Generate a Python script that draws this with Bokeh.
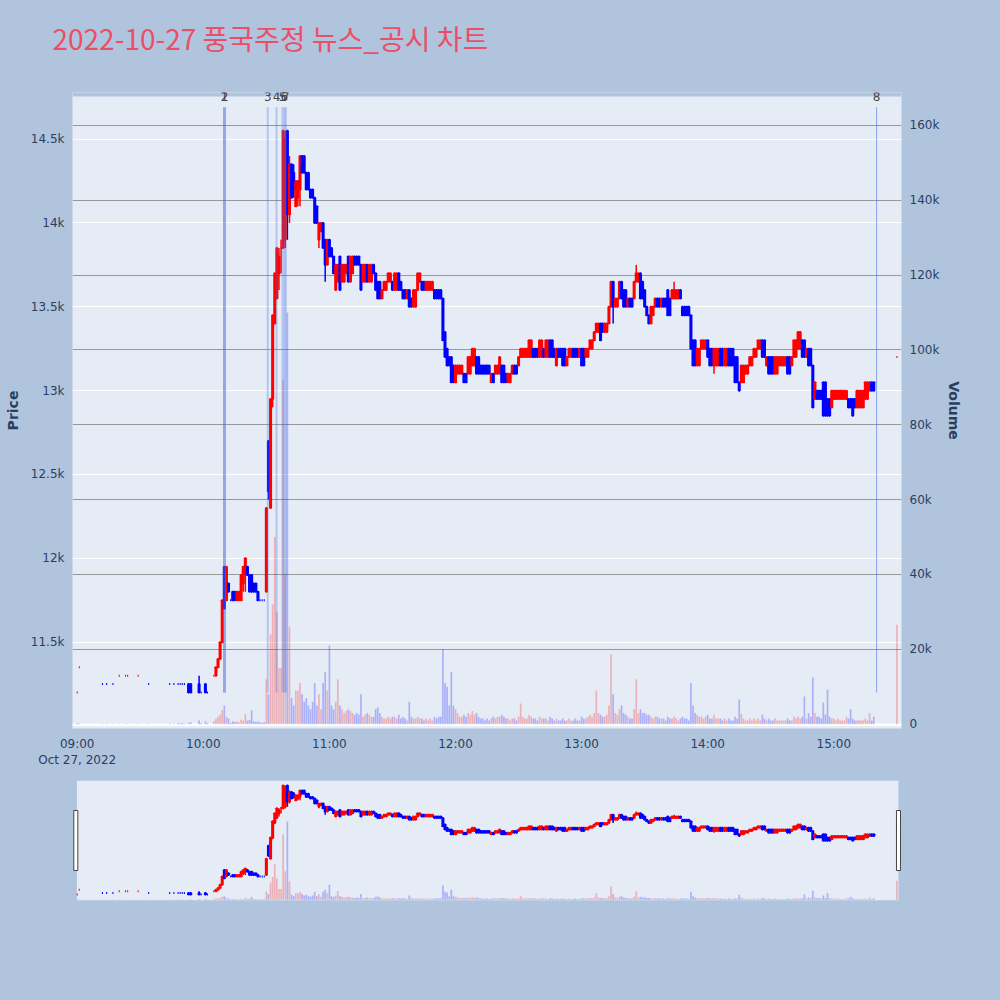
import pandas as pd
from bokeh.plotting import figure
from bokeh.models import (ColumnDataSource, Range1d, LinearAxis, FixedTicker, Grid,
                          DatetimeTickFormatter, BoxAnnotation)
from bokeh.core.properties import value
from bokeh.layouts import column
from bokeh.embed import file_html
from bokeh.resources import INLINE

DAY = "2022-10-27"
TITLE = "2022-10-27 풍국주정 뉴스_공시 차트"

times = [
    "09:00", "09:01", "09:12", "09:14", "09:17", "09:20", "09:23", "09:24", "09:29", "09:34",
    "09:44", "09:46", "09:48", "09:49", "09:50", "09:51", "09:53", "09:54", "09:58", "09:59",
    "10:01", "10:02",
    "10:05", "10:06", "10:07", "10:08", "10:09",
    "10:10", "10:11", "10:12", "10:13", "10:14", "10:15", "10:16", "10:17", "10:18", "10:19",
    "10:20", "10:21", "10:22", "10:23", "10:24", "10:25", "10:26", "10:27", "10:28", "10:29",
    "10:30", "10:31", "10:32", "10:33", "10:34", "10:35", "10:36", "10:37", "10:38", "10:39",
    "10:40", "10:41", "10:42", "10:43", "10:44", "10:45", "10:46", "10:47", "10:48", "10:49",
    "10:50", "10:51", "10:52", "10:53", "10:54", "10:55", "10:56", "10:57", "10:58", "10:59",
    "11:00", "11:01", "11:02", "11:03", "11:04", "11:05", "11:06", "11:07", "11:08", "11:09",
    "11:10", "11:11", "11:12", "11:13", "11:14", "11:15", "11:16", "11:17", "11:18", "11:19",
    "11:20", "11:21", "11:22", "11:23", "11:24", "11:25", "11:26", "11:27", "11:28", "11:29",
    "11:30", "11:31", "11:32", "11:33", "11:34", "11:35", "11:36", "11:37", "11:38", "11:39",
    "11:40", "11:41", "11:42", "11:43", "11:44", "11:45", "11:46", "11:47", "11:48", "11:49",
    "11:50", "11:51", "11:52", "11:53", "11:54", "11:55", "11:56", "11:57", "11:58", "11:59",
    "12:00", "12:01", "12:02", "12:03", "12:04", "12:05", "12:06", "12:07", "12:08", "12:09",
    "12:10", "12:11", "12:12", "12:13", "12:14", "12:15", "12:16", "12:17", "12:18", "12:19",
    "12:20", "12:21", "12:22", "12:23", "12:24", "12:25", "12:26", "12:27", "12:28", "12:29",
    "12:30", "12:31", "12:32", "12:33", "12:34", "12:35", "12:36", "12:37", "12:38", "12:39",
    "12:40", "12:41", "12:42", "12:43", "12:44", "12:45", "12:46", "12:47", "12:48", "12:49",
    "12:50", "12:51", "12:52", "12:53", "12:54", "12:55", "12:56", "12:57", "12:58", "12:59",
    "13:00", "13:01", "13:02", "13:03", "13:04", "13:05", "13:06", "13:07", "13:08", "13:09",
    "13:10", "13:11", "13:12", "13:13", "13:14", "13:15", "13:16", "13:17", "13:18", "13:19",
    "13:20", "13:21", "13:22", "13:23", "13:24", "13:25", "13:26", "13:27", "13:28", "13:29",
    "13:30", "13:31", "13:32", "13:33", "13:34", "13:35", "13:36", "13:37", "13:38", "13:39",
    "13:40", "13:41", "13:42", "13:43", "13:44", "13:45", "13:46", "13:47", "13:48", "13:49",
    "13:50", "13:51", "13:52", "13:53", "13:54", "13:55", "13:56", "13:57", "13:58", "13:59",
    "14:00", "14:01", "14:02", "14:03", "14:04", "14:05", "14:06", "14:07", "14:08", "14:09",
    "14:10", "14:11", "14:12", "14:13", "14:14", "14:15", "14:16", "14:17", "14:18", "14:19",
    "14:20", "14:21", "14:22", "14:23", "14:24", "14:25", "14:26", "14:27", "14:28", "14:29",
    "14:30", "14:31", "14:32", "14:33", "14:34", "14:35", "14:36", "14:37", "14:38", "14:39",
    "14:40", "14:41", "14:42", "14:43", "14:44", "14:45", "14:46", "14:47", "14:48", "14:49",
    "14:50", "14:51", "14:52", "14:53", "14:54", "14:55", "14:56", "14:57", "14:58", "14:59",
    "15:00", "15:01", "15:02", "15:03", "15:04", "15:05", "15:06", "15:07", "15:08", "15:09",
    "15:10", "15:11", "15:12", "15:13", "15:14", "15:15", "15:16", "15:17", "15:18", "15:19",
    "15:30",
]

opens = [
    11200, 11350, 11250, 11250, 11250, 11300, 11300, 11300, 11300, 11250,
    11250, 11250, 11250, 11250, 11250, 11250, 11250, 11250, 11250, 11200,
    11250, 11200,
    11300, 11300, 11350, 11400, 11500,
    11950, 11750, 11850, 11750, 11800, 11800, 11750, 11750, 11750, 11850,
    11900, 11950, 11900, 11900, 11850, 11850, 11800, 11750, 11750, 11750,
    11800, 12700, 12300, 12950, 13400, 13550, 13700, 13850, 13850, 13900,
    14550, 14050, 14350, 14300, 14100, 14150, 14200, 14400, 14400, 14300,
    14300, 14200, 14200, 14150, 14100, 13900, 13950, 14000, 13900, 13750,
    13900, 13850, 13800, 13600, 13650, 13800, 13650, 13650, 13700, 13800,
    13650, 13700, 13800, 13800, 13800, 13750, 13650, 13650, 13750, 13650,
    13650, 13750, 13700, 13650, 13650, 13550, 13600, 13600, 13650, 13650,
    13650, 13600, 13600, 13700, 13650, 13600, 13600, 13550, 13600, 13550,
    13500, 13500, 13600, 13650, 13650, 13650, 13600, 13600, 13600, 13600,
    13600, 13600, 13600, 13600, 13550, 13350, 13250, 13200, 13200, 13150,
    13050, 13100, 13100, 13100, 13100, 13100, 13100, 13100, 13150, 13150,
    13200, 13200, 13150, 13150, 13150, 13150, 13150, 13050, 13100, 13100,
    13100, 13100, 13150, 13150, 13100, 13050, 13050, 13100, 13150, 13150,
    13150, 13200, 13200, 13200, 13200, 13200, 13200, 13250, 13250, 13250,
    13200, 13200, 13250, 13200, 13200, 13300, 13300, 13250, 13150, 13250,
    13250, 13250, 13250, 13150, 13200, 13200, 13250, 13250, 13250, 13200,
    13250, 13250, 13200, 13200, 13250, 13250, 13300, 13350, 13350, 13400,
    13400, 13350, 13350, 13400, 13500, 13650, 13500, 13500, 13550, 13650,
    13600, 13600, 13500, 13550, 13550, 13550, 13650, 13650, 13700, 13650,
    13600, 13500, 13450, 13400, 13450, 13500, 13550, 13550, 13500, 13550,
    13550, 13600, 13550, 13550, 13550, 13550, 13550, 13600, 13500, 13500,
    13500, 13500, 13450, 13300, 13300, 13150, 13150, 13250, 13250, 13250,
    13300, 13250, 13250, 13150, 13150, 13150, 13250, 13250, 13150, 13150,
    13250, 13250, 13250, 13200, 13200, 13050, 13050, 13050, 13100, 13100,
    13150, 13150, 13200, 13200, 13250, 13250, 13300, 13300, 13150, 13200,
    13200, 13200, 13100, 13100, 13150, 13150, 13150, 13150, 13200, 13200,
    13150, 13200, 13200, 13250, 13250, 13300, 13300, 13200, 13250, 13250,
    13150, 12950, 13000, 13000, 13000, 13050, 13050, 12950, 12950, 12900,
    12950, 12950, 12950, 12950, 12950, 12950, 12950, 12950, 12950, 12950,
    12950, 12900, 12900, 12900, 12900, 12950, 12950, 13000, 13050, 13050,
    13200,
]

highs = [
    11200, 11350, 11250, 11250, 11250, 11300, 11300, 11300, 11300, 11250,
    11250, 11250, 11250, 11250, 11250, 11250, 11250, 11250, 11300, 11200,
    11250, 11200,
    11300, 11350, 11400, 11500, 11750,
    11950, 11950, 11850, 11750, 11800, 11800, 11800, 11800, 11900, 11950,
    12000, 11950, 11900, 11900, 11850, 11850, 11800, 11750, 11750, 11750,
    12300, 12700, 12950, 13450, 13700, 13850, 13850, 13900, 14550, 14550,
    14550, 14400, 14350, 14350, 14250, 14250, 14400, 14400, 14400, 14300,
    14300, 14200, 14200, 14150, 14100, 14000, 14000, 14000, 13900, 13900,
    13900, 13850, 13800, 13750, 13750, 13800, 13750, 13750, 13750, 13800,
    13800, 13800, 13800, 13800, 13800, 13750, 13750, 13750, 13750, 13750,
    13750, 13750, 13700, 13650, 13650, 13600, 13650, 13650, 13700, 13700,
    13650, 13700, 13700, 13700, 13650, 13600, 13600, 13600, 13600, 13550,
    13600, 13600, 13700, 13700, 13650, 13650, 13650, 13650, 13650, 13650,
    13600, 13600, 13600, 13600, 13550, 13350, 13250, 13200, 13200, 13150,
    13150, 13150, 13150, 13150, 13100, 13100, 13200, 13200, 13250, 13250,
    13200, 13200, 13150, 13150, 13150, 13150, 13150, 13100, 13100, 13150,
    13150, 13200, 13150, 13150, 13100, 13100, 13100, 13150, 13150, 13150,
    13200, 13250, 13250, 13250, 13250, 13300, 13300, 13250, 13250, 13250,
    13300, 13300, 13250, 13300, 13300, 13300, 13300, 13250, 13250, 13250,
    13250, 13250, 13250, 13200, 13250, 13250, 13250, 13250, 13250, 13250,
    13250, 13250, 13250, 13250, 13300, 13300, 13350, 13400, 13400, 13400,
    13400, 13400, 13400, 13500, 13650, 13650, 13550, 13550, 13650, 13650,
    13600, 13600, 13550, 13550, 13550, 13650, 13750, 13700, 13700, 13650,
    13600, 13500, 13450, 13500, 13500, 13550, 13550, 13550, 13550, 13550,
    13550, 13600, 13550, 13600, 13650, 13600, 13600, 13600, 13500, 13500,
    13500, 13500, 13450, 13300, 13300, 13250, 13250, 13300, 13300, 13300,
    13300, 13250, 13250, 13250, 13250, 13250, 13250, 13250, 13250, 13250,
    13250, 13250, 13250, 13200, 13200, 13050, 13150, 13150, 13150, 13150,
    13200, 13200, 13250, 13250, 13300, 13300, 13300, 13300, 13200, 13200,
    13200, 13200, 13200, 13200, 13200, 13200, 13200, 13200, 13200, 13200,
    13200, 13300, 13300, 13350, 13350, 13300, 13300, 13250, 13250, 13250,
    13150, 13050, 13000, 13000, 13000, 13050, 13050, 12950, 12950, 13000,
    13000, 13000, 13000, 13000, 13000, 13000, 13000, 12950, 12950, 12950,
    12950, 13000, 13000, 13000, 13000, 13050, 13050, 13050, 13050, 13050,
    13200,
]

lows = [
    11200, 11350, 11250, 11250, 11250, 11300, 11300, 11300, 11300, 11250,
    11250, 11250, 11250, 11250, 11250, 11250, 11200, 11200, 11200, 11200,
    11200, 11200,
    11300, 11300, 11350, 11400, 11500,
    11700, 11750, 11800, 11750, 11750, 11750, 11750, 11750, 11750, 11800,
    11800, 11900, 11800, 11800, 11800, 11800, 11750, 11750, 11750, 11750,
    11800, 12350, 12300, 12900, 13400, 13550, 13600, 13700, 13850, 13850,
    13900, 14000, 14150, 14150, 14100, 14100, 14100, 14300, 14300, 14200,
    14200, 14150, 14150, 14000, 14000, 13850, 13950, 13850, 13650, 13750,
    13800, 13800, 13700, 13600, 13650, 13600, 13650, 13650, 13700, 13650,
    13650, 13700, 13750, 13750, 13750, 13600, 13650, 13650, 13650, 13650,
    13650, 13700, 13600, 13550, 13550, 13550, 13600, 13600, 13650, 13650,
    13600, 13600, 13600, 13600, 13600, 13550, 13550, 13550, 13500, 13500,
    13500, 13500, 13600, 13650, 13600, 13600, 13600, 13600, 13600, 13600,
    13550, 13550, 13550, 13550, 13300, 13200, 13150, 13150, 13050, 13050,
    13050, 13100, 13100, 13100, 13050, 13050, 13100, 13100, 13150, 13150,
    13100, 13100, 13100, 13100, 13100, 13100, 13100, 13050, 13050, 13100,
    13100, 13100, 13050, 13050, 13050, 13050, 13050, 13100, 13100, 13100,
    13150, 13200, 13200, 13200, 13200, 13200, 13200, 13200, 13200, 13200,
    13200, 13200, 13200, 13200, 13200, 13200, 13200, 13200, 13150, 13200,
    13200, 13150, 13150, 13150, 13200, 13200, 13200, 13200, 13200, 13200,
    13150, 13150, 13200, 13200, 13250, 13250, 13300, 13350, 13350, 13300,
    13350, 13350, 13350, 13400, 13500, 13400, 13500, 13500, 13550, 13550,
    13500, 13500, 13500, 13500, 13500, 13550, 13650, 13650, 13550, 13550,
    13500, 13450, 13400, 13400, 13450, 13500, 13500, 13500, 13500, 13500,
    13500, 13450, 13450, 13550, 13550, 13550, 13550, 13550, 13450, 13450,
    13450, 13450, 13250, 13150, 13150, 13150, 13150, 13250, 13250, 13250,
    13200, 13150, 13150, 13100, 13150, 13150, 13150, 13150, 13150, 13150,
    13150, 13150, 13150, 13050, 13050, 13000, 13050, 13050, 13100, 13100,
    13150, 13150, 13200, 13200, 13250, 13250, 13200, 13200, 13150, 13100,
    13100, 13100, 13100, 13100, 13150, 13150, 13150, 13150, 13100, 13100,
    13150, 13200, 13200, 13250, 13250, 13200, 13200, 13200, 13150, 13150,
    12900, 12950, 12950, 12950, 12950, 12850, 12850, 12850, 12850, 12900,
    12950, 12950, 12950, 12950, 12950, 12950, 12950, 12900, 12900, 12850,
    12900, 12900, 12900, 12900, 12900, 12950, 12950, 13000, 13000, 13000,
    13200,
]

closes = [
    11200, 11350, 11250, 11250, 11250, 11300, 11300, 11300, 11300, 11250,
    11250, 11250, 11250, 11250, 11250, 11250, 11200, 11200, 11200, 11200,
    11200, 11200,
    11300, 11350, 11400, 11500, 11750,
    11700, 11950, 11800, 11750, 11750, 11750, 11800, 11800, 11900, 11950,
    12000, 11900, 11800, 11800, 11800, 11800, 11750, 11750, 11750, 11750,
    12300, 12400, 12950, 13450, 13700, 13850, 13800, 13850, 14550, 14500,
    14050, 14350, 14150, 14200, 14250, 14250, 14400, 14300, 14300, 14200,
    14200, 14150, 14150, 14000, 14000, 14000, 14000, 13850, 13750, 13900,
    13800, 13800, 13700, 13750, 13750, 13600, 13750, 13750, 13750, 13650,
    13800, 13800, 13750, 13750, 13750, 13600, 13750, 13750, 13650, 13750,
    13750, 13700, 13600, 13550, 13550, 13600, 13650, 13650, 13700, 13700,
    13600, 13700, 13700, 13600, 13600, 13550, 13550, 13600, 13500, 13500,
    13600, 13600, 13700, 13700, 13600, 13600, 13650, 13650, 13650, 13650,
    13550, 13550, 13550, 13550, 13300, 13200, 13150, 13150, 13050, 13050,
    13150, 13150, 13150, 13150, 13050, 13050, 13200, 13200, 13250, 13250,
    13100, 13100, 13100, 13100, 13100, 13100, 13100, 13100, 13050, 13150,
    13150, 13200, 13050, 13050, 13050, 13100, 13100, 13150, 13100, 13100,
    13200, 13250, 13250, 13250, 13250, 13300, 13300, 13200, 13200, 13200,
    13300, 13300, 13200, 13300, 13300, 13200, 13200, 13200, 13250, 13200,
    13200, 13150, 13150, 13200, 13250, 13250, 13200, 13200, 13200, 13250,
    13150, 13150, 13250, 13250, 13300, 13300, 13350, 13400, 13400, 13300,
    13350, 13400, 13400, 13500, 13650, 13500, 13550, 13550, 13650, 13550,
    13500, 13500, 13550, 13500, 13500, 13650, 13700, 13700, 13550, 13550,
    13500, 13450, 13400, 13500, 13500, 13550, 13500, 13500, 13550, 13500,
    13500, 13450, 13450, 13600, 13600, 13600, 13600, 13550, 13450, 13450,
    13450, 13450, 13250, 13150, 13150, 13250, 13250, 13300, 13300, 13300,
    13200, 13150, 13150, 13250, 13250, 13250, 13150, 13150, 13250, 13250,
    13150, 13150, 13150, 13050, 13050, 13000, 13150, 13150, 13150, 13150,
    13200, 13200, 13250, 13250, 13300, 13300, 13200, 13200, 13200, 13100,
    13100, 13100, 13200, 13200, 13200, 13200, 13200, 13200, 13100, 13100,
    13200, 13300, 13300, 13350, 13350, 13200, 13200, 13250, 13150, 13150,
    12900, 13050, 12950, 12950, 12950, 12850, 12850, 12850, 12850, 13000,
    13000, 13000, 13000, 13000, 13000, 13000, 13000, 12900, 12900, 12850,
    12900, 13000, 13000, 13000, 13000, 13050, 13050, 13050, 13000, 13000,
    13200,
]

volumes = [
    300, 200, 150, 100, 100, 150, 100, 100, 150, 100,
    200, 100, 300, 200, 300, 200, 400, 500, 1000, 300,
    800, 300,
    800, 1500, 2000, 2500, 3700,
    5000, 2000, 1500, 300, 800, 600, 700, 500, 1200, 1000,
    2700, 1000, 1200, 3700, 800, 600, 700, 500, 400, 500,
    12000, 8000, 24000, 32000, 50000, 30000, 15000, 15000, 92000, 40000,
    110000, 26000, 7000, 5000, 9000, 9000, 11000, 8000, 6000, 7000,
    5000, 4000, 6000, 11000, 5000, 8000, 4000, 11000, 14000, 9000,
    21000, 5000, 4000, 6000, 12000, 5000, 4000, 3000, 3500, 4000,
    3500, 3000, 2500, 3000, 2500, 8000, 2000, 2500, 3000, 2500,
    2000, 2000, 4000, 4500, 3000, 2000, 1500, 1500, 2000, 1500,
    2000, 2000, 1500, 2500, 1500, 2000, 1500, 1000, 6000, 2000,
    1500, 1500, 2000, 1500, 1500, 1000, 1500, 1000, 1500, 1000,
    2000, 1500, 2000, 2000, 20000, 11000, 10000, 5000, 14000, 5000,
    4000, 3000, 2000, 2000, 2500, 2000, 3000, 2500, 3500, 2500,
    3000, 2000, 1500, 1500, 1000, 1500, 1000, 1500, 2000, 1500,
    2000, 2000, 2500, 2000, 1500, 1500, 1000, 1500, 1500, 1000,
    2000, 5500, 2000, 1500, 1500, 2500, 2000, 1500, 1500, 1000,
    2000, 1500, 1500, 1500, 1000, 2000, 1500, 1000, 1500, 1000,
    1000, 1500, 1000, 1000, 1500, 1000, 1000, 1500, 1000, 1000,
    2000, 1500, 1500, 2000, 2500, 2000, 3000, 9000, 3000, 2500,
    2000, 2000, 2500, 5000, 18600, 8000, 3000, 2500, 4000, 5000,
    3000, 2500, 2000, 1500, 1500, 4000, 12000, 3000, 4000, 3000,
    3000, 2500, 2500, 2000, 1500, 2000, 2000, 1500, 1500, 1500,
    1000, 2000, 1500, 1500, 2000, 1500, 1000, 1500, 2000, 1500,
    1500, 1000, 11000, 5000, 3000, 2500, 2000, 2000, 1500, 2000,
    2500, 1500, 1500, 2500, 1500, 1500, 1500, 1000, 1500, 1000,
    1500, 1000, 1000, 2000, 1500, 6600, 2700, 1500, 1000, 1000,
    1500, 1000, 1500, 1000, 1500, 1000, 2500, 1500, 1000, 1500,
    1000, 1000, 1500, 1000, 1000, 1000, 1000, 1000, 1500, 1000,
    1000, 2000, 1500, 2000, 1500, 2000, 7400, 1500, 3000, 2000,
    12500, 3000, 2000, 2000, 1500, 5800, 2500, 9300, 2000, 1500,
    1500, 1000, 1500, 1000, 1000, 1000, 2000, 1500, 4000, 1500,
    1000, 1000, 1200, 1000, 1000, 1500, 1000, 3000, 1000, 2000,
    26600,
]

event_times = ["10:10:05", "10:10:05", "10:30:40", "10:34:50", "10:37:40", "10:38:35", "10:39:15", "15:20:20"]
event_labels = ["1", "2", "3", "4", "5", "6", "7", "8"]
event_widths = [3, 3, 2, 2, 2, 2, 2, 1]
event_alphas = [0.3, 0.3, 0.3, 0.3, 0.3, 0.3, 0.3, 0.55]
event_low, event_high = 11200, 14690

price_ticks = [11000, 11500, 12000, 12500, 13000, 13500, 14000, 14500]
price_tick_labels = ["11k", "11.5k", "12k", "12.5k", "13k", "13.5k", "14k", "14.5k"]
volume_ticks = [0, 20000, 40000, 60000, 80000, 100000, 120000, 140000, 160000]
volume_tick_labels = ["0", "20k", "40k", "60k", "80k", "100k", "120k", "140k", "160k"]
hour_ticks = ["09:00", "10:00", "11:00", "12:00", "13:00", "14:00", "15:00"]

INC, DEC = "#FF0000", "#0000FF"
PAGE_BG, PLOT_BG, TXT = "#B0C4DE", "#E5ECF6", "#2a3f5f"
FONT = "DejaVu Sans"
TITLE_FONT = "Noto Sans CJK KR"
MIN = 60000.0
TITLE_H = 72
FRAME_L, FRAME_R = 72, 901
PRICE_LO, PRICE_TOP, PRICE_HI = 10985, 14754, 14778   # PRICE_HI adds a 4px strip for the marker numbers
VOL_LO, VOL_HI = -1150, 168760


def to_ms(t):
    ts = pd.Timestamp(f"{DAY} {t}")
    return (ts - pd.Timestamp("1970-01-01")) / pd.Timedelta(milliseconds=1)


t_ms = [to_ms(t) for t in times]
colors = []
prev_c, prev_col = None, INC
for o, c in zip(opens, closes):
    if c > o:
        col = INC
    elif c < o:
        col = DEC
    elif prev_c is None or c > prev_c:
        col = INC
    elif c < prev_c:
        col = DEC
    else:
        col = prev_col
    colors.append(col)
    prev_c, prev_col = c, col

src = ColumnDataSource(dict(
    t=t_ms, h=highs, l=lows, v=volumes, color=colors,
    top=[max(o, c) for o, c in zip(opens, closes)],
    bot=[min(o, c) for o, c in zip(opens, closes)],
))

T0, TN = t_ms[0], t_ms[-1]
X_START, X_END = T0 - 2.24 * MIN, T0 + 392.2 * MIN


def draw_series(fig):
    fig.vbar(x="t", width=0.8 * MIN, top="v", bottom=0, source=src, fill_color="color",
             fill_alpha=0.25, line_color=None, y_range_name="vol")
    fig.segment(x0="t", y0="l", x1="t", y1="h", source=src, line_color="color", line_width=1.5)
    fig.vbar(x="t", width=0.5 * MIN, top="top", bottom="bot", source=src, fill_color="color",
             line_color="color", line_width=2)


# ---------------- title strip ----------------
tf = figure(width=1000, height=TITLE_H, x_range=Range1d(0, 1), y_range=Range1d(0, 1),
            x_axis_location=None, y_axis_location=None,
            min_border_left=FRAME_L, min_border_right=1000 - FRAME_R, min_border_top=62,
            min_border_bottom=0,
            output_backend="svg", toolbar_location=None,
            background_fill_color=PAGE_BG, border_fill_color=PAGE_BG, outline_line_color=None)
tf.grid.visible = False
tf.title.text = TITLE
tf.title.text_font = TITLE_FONT
tf.title.text_font_size = "28px"
tf.title.text_font_style = "normal"
tf.title.text_color = "#EB4F68"
tf.title.align = "left"
tf.title.offset = -20
tf.title.standoff = 10

# ---------------- main chart ----------------
p = figure(width=1000, height=733 + 37 - TITLE_H, x_axis_type="datetime",
           x_range=Range1d(X_START, X_END), y_range=Range1d(PRICE_LO, PRICE_HI),
           output_backend="svg", toolbar_location=None,
           min_border_left=FRAME_L, min_border_right=1000 - FRAME_R, min_border_top=92 - TITLE_H,
           min_border_bottom=37,
           background_fill_color=PLOT_BG, border_fill_color=PAGE_BG, outline_line_color=None)
p.extra_y_ranges = {"vol": Range1d(VOL_LO, VOL_HI)}
p.title.visible = False
p.add_layout(BoxAnnotation(bottom=PRICE_TOP, fill_color=PAGE_BG, fill_alpha=1.0,
                           line_color=None, level="underlay"))

p.xgrid.visible = False
p.ygrid.ticker = FixedTicker(ticks=price_ticks)
p.ygrid.grid_line_color = "white"
p.ygrid.grid_line_width = 1
p.add_layout(Grid(dimension=1, ticker=FixedTicker(ticks=volume_ticks[1:]), y_range_name="vol",
                  grid_line_color="#999999", grid_line_width=1.2))
p.add_layout(Grid(dimension=1, ticker=FixedTicker(ticks=[0]), y_range_name="vol",
                  grid_line_color="white", grid_line_width=2))

xa = p.xaxis[0]
xa.ticker = FixedTicker(ticks=[to_ms(h) for h in hour_ticks])
xa.formatter = DatetimeTickFormatter(hours="%H:%M", hourmin="%H:%M", minutes="%H:%M",
                                     context="%b %d, %Y", context_which="start")
ya = p.yaxis[0]
ya.ticker = FixedTicker(ticks=price_ticks[1:])
ya.major_label_overrides = {v: s for v, s in zip(price_ticks, price_tick_labels)}
ya.axis_label = "Price"
vax = LinearAxis(y_range_name="vol", ticker=FixedTicker(ticks=volume_ticks),
                 major_label_overrides={v: s for v, s in zip(volume_ticks, volume_tick_labels)},
                 axis_label="Volume")
p.add_layout(vax, "right")

for ax in (xa, ya, vax):
    ax.axis_line_color = None
    ax.major_tick_line_color = None
    ax.minor_tick_line_color = None
    ax.major_label_text_font = FONT
    ax.major_label_text_font_size = "12px"
    ax.major_label_text_color = TXT
    ax.major_label_standoff = 2
    ax.axis_label_text_font = FONT
    ax.axis_label_text_font_size = "14px"
    ax.axis_label_text_font_style = "bold"
    ax.axis_label_text_color = TXT
ya.axis_label_standoff = 7
vax.axis_label_standoff = 4

draw_series(p)

ev_ms = [to_ms(t) for t in event_times]
p.segment(x0=ev_ms, y0=[event_low] * len(ev_ms), x1=ev_ms, y1=[event_high] * len(ev_ms),
          line_color="royalblue", line_alpha=event_alphas, line_width=event_widths)
p.text(x=ev_ms, y=[PRICE_TOP - 2] * len(ev_ms), text=event_labels, text_align="center",
       text_baseline="middle", text_font=value(FONT), text_font_size="12px", text_color="#444444")

# ---------------- range slider ----------------
SL_LO, SL_HI = 11016, 14704
s = figure(width=1000, height=230, x_axis_type="datetime",
           x_range=Range1d(X_START, X_END), y_range=Range1d(SL_LO, SL_HI),
           x_axis_location=None, y_axis_location=None,
           output_backend="svg", toolbar_location=None,
           min_border_left=FRAME_L, min_border_right=1000 - FRAME_R, min_border_top=10,
           min_border_bottom=100,
           background_fill_color=PAGE_BG, border_fill_color=PAGE_BG, outline_line_color=None)
s.extra_y_ranges = {"vol": Range1d(-1150, 167700)}
s.grid.visible = False
s.title.visible = False
s.quad(left=[T0 - 0.15 * MIN], right=[TN + 0.75 * MIN], bottom=[SL_LO], top=[SL_HI],
       fill_color=PLOT_BG, line_color=None)
draw_series(s)
span = SL_HI - SL_LO
s.quad(left=[T0 - 1.62 * MIN, TN - 0.19 * MIN], right=[T0 + 0.29 * MIN, TN + 1.71 * MIN],
       bottom=[SL_LO + 0.25 * span] * 2, top=[SL_LO + 0.75 * span] * 2,
       fill_color="white", line_color="#444444", line_width=1)

layout = column(tf, p, s, spacing=0)
html = file_html(layout, INLINE, title="chart")
html = html.replace("</head>", "<style>body{background:#B0C4DE;}</style></head>", 1)
open("out.html", "w").write(html)
